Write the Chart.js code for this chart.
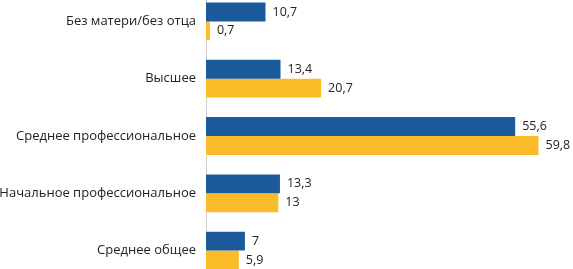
<!DOCTYPE html>
<html>
<head>
<meta charset="utf-8">
<script src="https://cdn.jsdelivr.net/npm/chart.js@4"></script>
<style>
    html, body { margin: 0; padding: 0; background: #fff; overflow: hidden; width: 573px; height: 269px; position: relative; }
    #barChart { position: absolute; left: 0; top: -25px; }
</style>
</head>
<body>
<canvas id="barChart" width="573" height="322"></canvas>
<script>
// Данные
const categories = ['Без матери/без отца', 'Высшее', 'Среднее профессиональное', 'Начальное профессиональное', 'Среднее общее'];
const seriesBlue = [10.7, 13.4, 55.6, 13.3, 7];
const seriesYellow = [0.7, 20.7, 59.8, 13, 5.9];

const fontFamily = "'Open Sans', sans-serif";

// подписи значений справа от столбцов
const valueLabels = {
    id: 'valueLabels',
    afterDatasetsDraw(chart) {
        const ctx = chart.ctx;
        ctx.save();
        ctx.font = '12.5px ' + fontFamily;
        ctx.fillStyle = '#222';
        ctx.textBaseline = 'middle';
        ctx.textAlign = 'left';
        chart.data.datasets.forEach((ds, i) => {
            chart.getDatasetMeta(i).data.forEach((bar, j) => {
                const txt = String(ds.data[j]).replace('.', ',');
                ctx.fillText(txt, bar.x + 7, bar.y);
            });
        });
        ctx.restore();
    },
};

const barCanvas = document.querySelector('#barChart');

if (barCanvas && typeof Chart !== 'undefined') {
    new Chart(barCanvas, {
        type: 'bar',
        data: {
            labels: categories,
            datasets: [
                { data: seriesBlue, backgroundColor: '#1b5a9b' },
                { data: seriesYellow, backgroundColor: '#fbbc2a' },
            ],
        },
        options: {
            indexAxis: 'y',
            responsive: false,
            animation: false,
            categoryPercentage: 0.66,
            barPercentage: 1,
            layout: { padding: 0 },
            scales: {
                x: {
                    display: false,
                    min: 0,
                    max: 66,
                },
                y: {
                    grid: { display: false, drawTicks: false },
                    border: { display: true, color: '#d0d0d0', width: 1 },
                    ticks: { font: { size: 13, family: fontFamily }, color: '#222', padding: 10 },
                    afterFit(scale) { scale.width = 206; },
                },
            },
            plugins: {
                legend: { display: false },
                tooltip: { enabled: false },
            },
        },
        plugins: [valueLabels],
    });
}
</script>
</body>
</html>
